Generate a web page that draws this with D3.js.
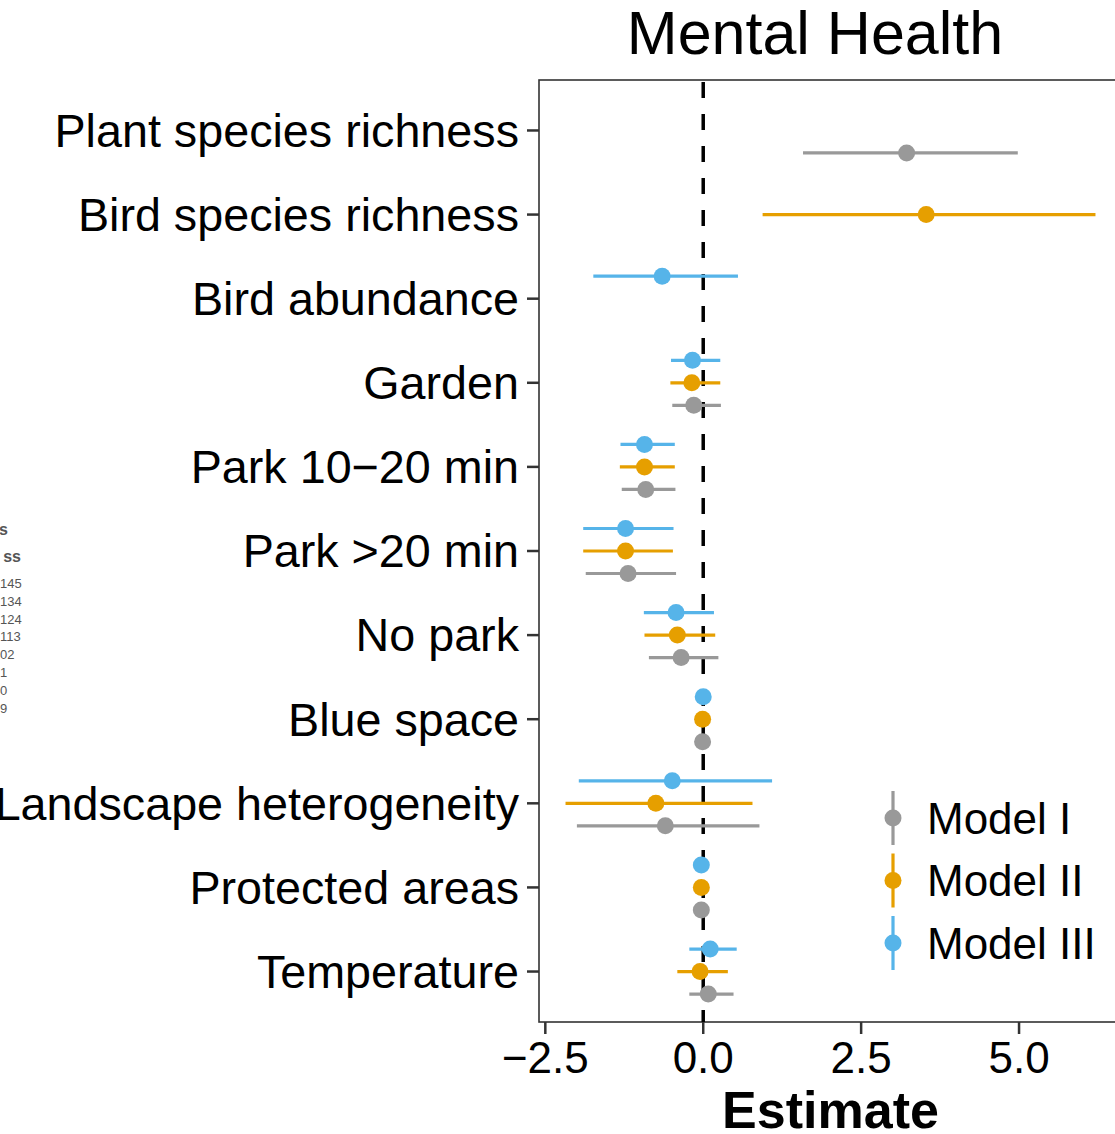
<!DOCTYPE html>
<html lang="en">
<head>
    <meta charset="UTF-8">
    <title>Mental Health</title>
    <script src="https://d3js.org/d3.v7.min.js"></script>
    <style>
        body { margin: 0; background: #fff; }
        svg { display: block; font-family: "Liberation Sans", Arial, sans-serif; }
        .tick-label { font-size: 46.7px; fill: #000; }
        .frag { fill: #555; }
    </style>
</head>
<body>
    <script>
        const width = 1115;
        const height = 1134;

        const categories = ["Plant species richness", "Bird species richness", "Bird abundance",
            "Garden", "Park 10\u221220 min", "Park >20 min", "No park", "Blue space",
            "Landscape heterogeneity", "Protected areas", "Temperature"];
        const models = ["Model I", "Model II", "Model III"];
        const colors = ["#999999", "#E69F00", "#56B4E9"];
        const xTicks = [-2.5, 0, 2.5, 5];

        // estimate / lower / upper per model, null = not in model
        const estI = [3.22, null, null, -0.15, -0.91, -1.19, -0.35, -0.01, -0.60, -0.03, 0.08];
        const loI  = [1.58, null, null, -0.49, -1.29, -1.86, -0.86, -0.06, -2.00, -0.07, -0.22];
        const hiI  = [4.98, null, null, 0.28, -0.44, -0.43, 0.24, 0.04, 0.89, 0.01, 0.48];

        const estII = [null, 3.53, null, -0.18, -0.93, -1.23, -0.41, -0.01, -0.75, -0.03, -0.05];
        const loII  = [null, 0.94, null, -0.52, -1.32, -1.90, -0.93, -0.05, -2.18, -0.07, -0.41];
        const hiII  = [null, 6.21, null, 0.27, -0.45, -0.48, 0.19, 0.03, 0.78, 0.01, 0.39];

        const estIII = [null, null, -0.65, -0.17, -0.93, -1.23, -0.43, 0.00, -0.49, -0.03, 0.11];
        const loIII  = [null, null, -1.74, -0.51, -1.31, -1.90, -0.94, -0.04, -1.97, -0.07, -0.22];
        const hiIII  = [null, null, 0.55, 0.27, -0.45, -0.47, 0.17, 0.04, 1.09, 0.01, 0.53];

        // bits of the neighbouring panel's legend cut off at the left edge
        const fragHead = ["s", "ss"];
        const fragVals = ["145", "134", "124", "113", "02", "1", "0", "9"];

        const series = [[estI, loI, hiI], [estII, loII, hiII], [estIII, loIII, hiIII]];
        const rows = [];
        series.forEach((s, m) => {
            categories.forEach((c, i) => {
                if (s[0][i] !== null) rows.push({cat: c, model: models[m], est: s[0][i], lo: s[1][i], hi: s[2][i], color: colors[m]});
            });
        });

        const panel = {left: 539, right: 1122, top: 80, bottom: 1022};

        const svg = d3.select("body").append("svg")
            .attr("width", width).attr("height", height);

        const x = d3.scaleLinear().domain([-2.6, 6.63]).range([panel.left, panel.right]);
        const y = d3.scalePoint().domain(categories).range([panel.top, panel.bottom]).padding(0.6);
        const dodge = d3.scalePoint().domain(["Model III", "Model II", "Model I"]).range([-22.5, 22.5]);

        // fragment of the other panel
        svg.append("g").selectAll("text").data(fragHead).join("text")
            .attr("class", "frag")
            .attr("x", (d, i) => i === 0 ? 8 : 21)
            .attr("y", (d, i) => 535 + i * 27)
            .style("font-size", "16px")
            .style("font-weight", "bold")
            .attr("text-anchor", "end")
            .text(d => d);
        svg.append("g").selectAll("text").data(fragVals).join("text")
            .attr("class", "frag")
            .attr("x", 0)
            .attr("y", (d, i) => 588 + i * 17.8)
            .style("font-size", "13px")
            .text(d => d);

        // panel border
        svg.append("rect")
            .attr("x", panel.left).attr("y", panel.top)
            .attr("width", panel.right - panel.left).attr("height", panel.bottom - panel.top)
            .attr("fill", "none").attr("stroke", "#333").attr("stroke-width", 1.6);

        // zero line
        svg.append("line")
            .attr("x1", x(0)).attr("x2", x(0))
            .attr("y1", panel.top + 2).attr("y2", panel.bottom)
            .attr("stroke", "#000").attr("stroke-width", 3.5)
            .attr("stroke-dasharray", "16,16");

        // error bars and points
        const g = svg.append("g");
        g.selectAll("line.err").data(rows).join("line")
            .attr("class", "err")
            .attr("x1", d => x(d.lo)).attr("x2", d => x(d.hi))
            .attr("y1", d => y(d.cat) + dodge(d.model)).attr("y2", d => y(d.cat) + dodge(d.model))
            .attr("stroke", d => d.color).attr("stroke-width", 3.2);
        g.selectAll("circle").data(rows).join("circle")
            .attr("cx", d => x(d.est)).attr("cy", d => y(d.cat) + dodge(d.model))
            .attr("r", 8.5).attr("fill", d => d.color);

        // y axis
        const yAxis = svg.append("g");
        yAxis.selectAll("line").data(categories).join("line")
            .attr("x1", panel.left - 12).attr("x2", panel.left)
            .attr("y1", d => y(d)).attr("y2", d => y(d))
            .attr("stroke", "#333").attr("stroke-width", 2.5);
        yAxis.selectAll("text").data(categories).join("text")
            .attr("class", "tick-label")
            .attr("x", panel.left - 20).attr("y", d => y(d))
            .attr("dy", "0.35em").attr("text-anchor", "end")
            .text(d => d);

        // x axis
        const xAxis = svg.append("g");
        xAxis.selectAll("line").data(xTicks).join("line")
            .attr("x1", d => x(d)).attr("x2", d => x(d))
            .attr("y1", panel.bottom).attr("y2", panel.bottom + 12)
            .attr("stroke", "#333").attr("stroke-width", 2.5);
        xAxis.selectAll("text").data(xTicks).join("text")
            .attr("class", "tick-label")
            .style("font-size", "44px")
            .attr("x", d => x(d)).attr("y", 1073)
            .attr("text-anchor", "middle")
            .text(d => d3.format(".1f")(d).replace("-", "\u2212"));

        svg.append("text")
            .attr("x", (panel.left + panel.right) / 2).attr("y", 1128)
            .attr("text-anchor", "middle")
            .style("font-size", "52px").style("font-weight", "bold")
            .text("Estimate");

        svg.append("text")
            .attr("x", 815).attr("y", 54)
            .attr("text-anchor", "middle")
            .style("font-size", "61px")
            .text("Mental Health");

        // legend
        const legend = svg.append("g").selectAll("g").data(models).join("g")
            .attr("transform", (d, i) => `translate(893,${818 + i * 62.5})`);
        legend.append("line")
            .attr("y1", -27).attr("y2", 27)
            .attr("stroke", (d, i) => colors[i]).attr("stroke-width", 3.2);
        legend.append("circle")
            .attr("r", 8.5).attr("fill", (d, i) => colors[i]);
        legend.append("text")
            .attr("x", 34).attr("dy", "0.36em")
            .style("font-size", "44px")
            .text(d => d);
    </script>
</body>
</html>
